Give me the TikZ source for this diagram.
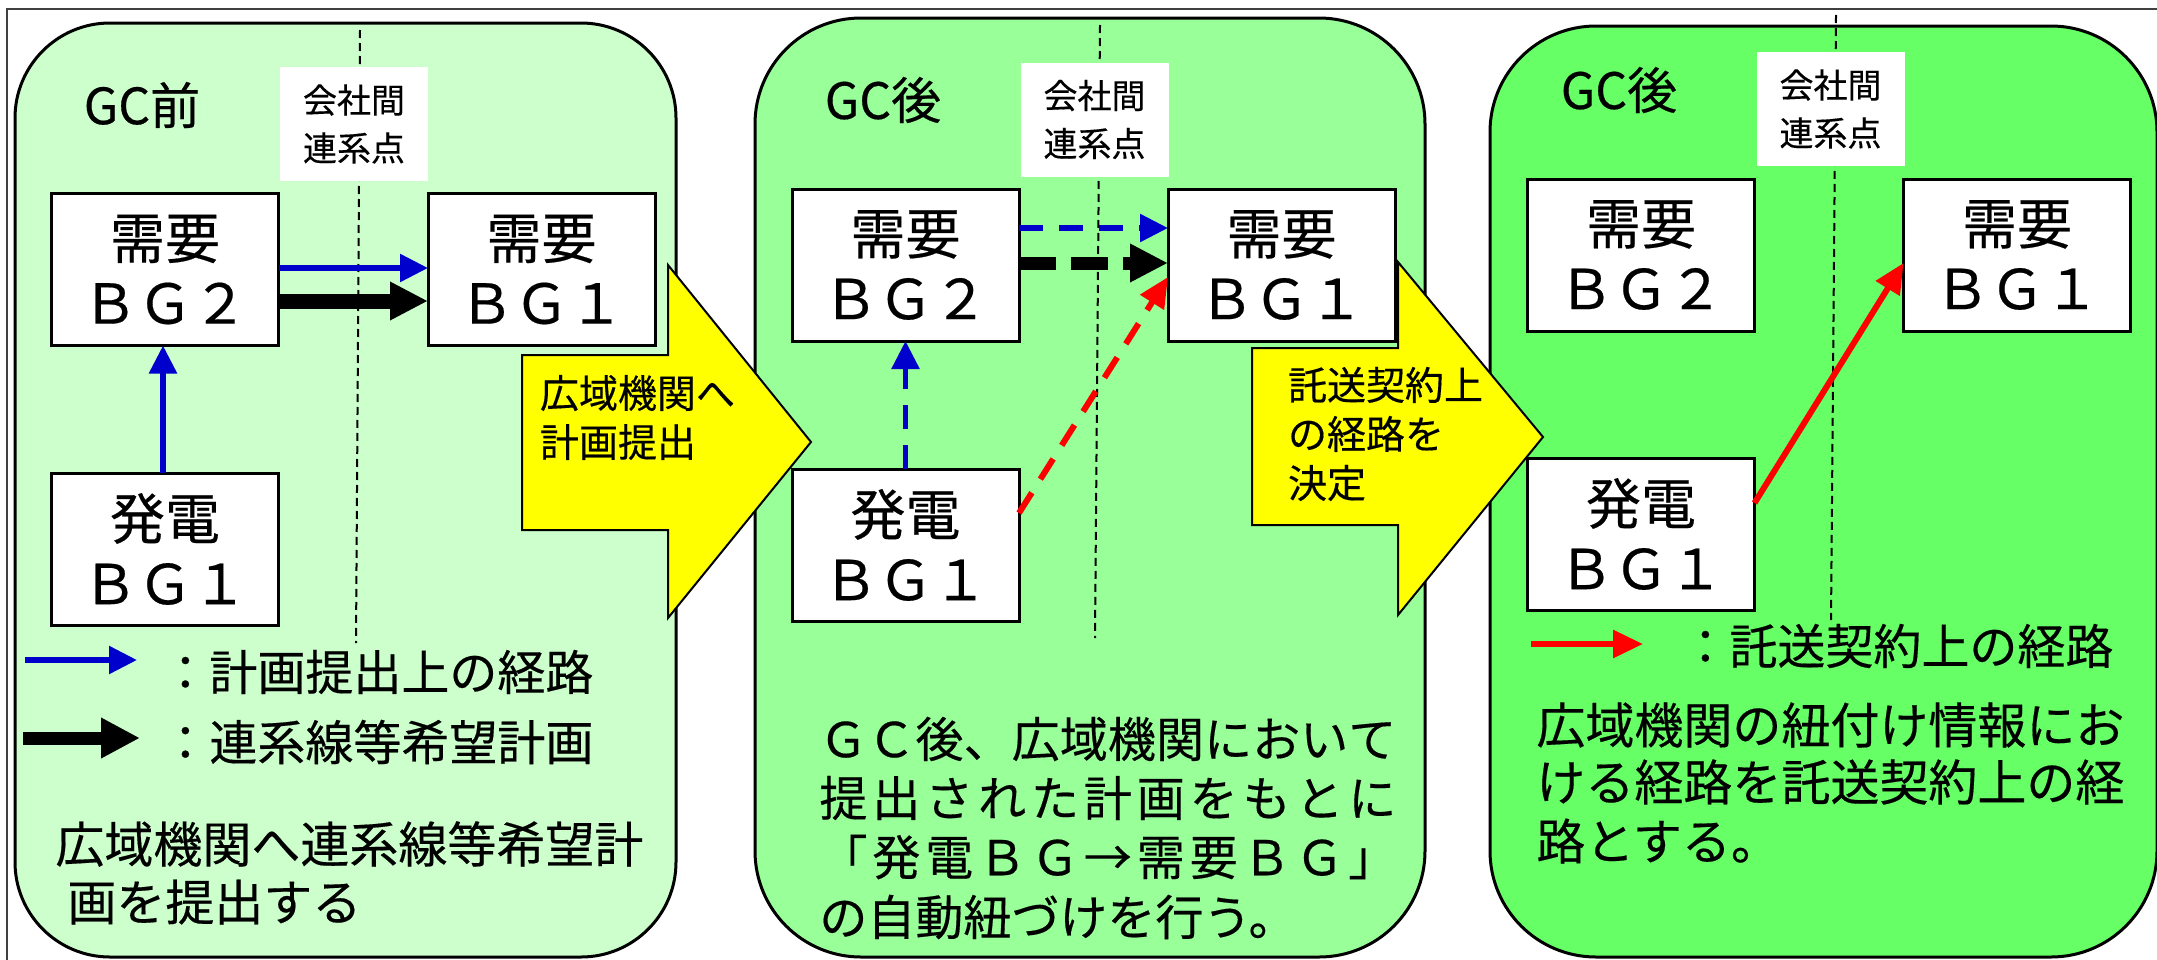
\documentclass[tikz,border=0pt]{standalone}
\usepackage{fontspec}
\setmainfont{Noto Sans CJK JP}[FakeBold=0.35]
\usetikzlibrary{arrows.meta}
\definecolor{pone}{HTML}{CCFFCC}
\definecolor{ptwo}{HTML}{99FF99}
\definecolor{pthree}{HTML}{66FF66}
\definecolor{arblue}{HTML}{0000CC}
\definecolor{yel}{HTML}{FFFF00}
\def\jspreadA#1{\ifx#1\relax\else#1\expandafter\jspreadB\fi}
\def\jspreadB#1{\ifx#1\relax\else\hfil#1\expandafter\jspreadB\fi}
\newcommand\jspread[2]{\hbox to #1{\jspreadA#2\relax}}
\tikzset{
  bgbox/.style={draw, line width=1.5pt, fill=white, minimum width=113.5pt, minimum height=76pt,
    align=center, inner sep=0pt, outer sep=0pt, font=\fontsize{27.5pt}{32.5pt}\selectfont},
  panel/.style={draw, line width=1.5pt},
  sepline/.style={draw, line width=1pt, dash pattern=on 4pt off 2.5pt},
  kbox/.style={fill=white, inner sep=0pt, minimum width=74pt, minimum height=57pt,
    align=center, font=\fontsize{17pt}{24pt}\selectfont},
  gclab/.style={font=\fontsize{25pt}{25pt}\selectfont, inner sep=0pt},
  yarrow/.style={draw, line width=1pt, fill=yel, line join=miter},
  ytext/.style={align=left, font=\fontsize{19.5pt}{24.5pt}\selectfont, inner sep=0pt},
  body/.style={font=\fontsize{24.5pt}{29pt}\selectfont, inner sep=0pt, anchor=west},
  bodyb/.style={font=\fontsize{24pt}{29pt}\selectfont, inner sep=0pt, anchor=west},
  legtext/.style={font=\fontsize{24pt}{29pt}\selectfont, inner sep=0pt, anchor=west},
  bluearr/.style={draw=arblue, line width=2.8pt, -{Triangle[length=14pt,width=13.5pt,fill=arblue]}},
  blackarr/.style={draw=black, line width=7.5pt, -{Triangle[length=19pt,width=18pt]}},
  legblack/.style={draw=black, line width=6.5pt, -{Triangle[length=19.5pt,width=19pt]}},
  redarr/.style={draw=red, line width=3pt, -{Triangle[length=15pt,width=13.5pt,fill=red]}},
  dashblue/.style={dash pattern=on 12pt off 8pt},
  dashblack/.style={dash pattern=on 18.5pt off 7.5pt},
}
\begin{document}
\begin{tikzpicture}[x=0.5pt, y=-0.5pt]
\useasboundingbox (0,0) rectangle (2157,959);
\clip (0,0) rectangle (2157,959);
\fill[white] (0,0) rectangle (2157,959);
% outer frame
\draw[line width=1pt, black!75] (7,9) rectangle (2300,1100);
% panels
\draw[panel, fill=pone, rounded corners=47.5pt] (15,23) rectangle (676,957);
\draw[panel, fill=ptwo, rounded corners=53pt] (755,18) rectangle (1425,957);
\draw[panel, fill=pthree, rounded corners=53pt] (1490,26) rectangle (2157,957);
% separator lines
\draw[sepline] (360,30) -- (356,643);
\draw[sepline] (1100,25) -- (1095,638);
\draw[sepline] (1836,15) -- (1831,620);
% company connection point labels
\node[kbox] (k1) at (354,124) {会社間\\連系点};
\node[kbox] (k2) at (1094.5,119.5) {会社間\\連系点};
\node[kbox] (k3) at (1830.5,109) {会社間\\連系点};
% GC labels
\node[gclab] (gc1) at (142,105) {GC前};
\node[gclab] (gc2) at (883,100) {GC後};
\node[gclab] (gc3) at (1619,90) {GC後};
% panel 1 boxes
\node[bgbox] (p1d2) at (165,269.5) {需要\\ＢＧ２};
\node[bgbox] (p1d1) at (541.5,269.5) {需要\\ＢＧ１};
\node[bgbox] (p1g1) at (165,549) {発電\\ＢＧ１};
% panel 2 boxes
\node[bgbox] (p2d2) at (905.5,265) {需要\\ＢＧ２};
\node[bgbox] (p2d1) at (1281.5,265) {需要\\ＢＧ１};
\node[bgbox] (p2g1) at (905.5,545) {発電\\ＢＧ１};
% panel 3 boxes
\node[bgbox] (p3d2) at (1641,255) {需要\\ＢＧ２};
\node[bgbox] (p3d1) at (2017,255) {需要\\ＢＧ１};
\node[bgbox] (p3g1) at (1641,534) {発電\\ＢＧ１};
% panel 1 connectors
\draw[bluearr] ([yshift=0.75pt]p1d2.east) -- ([yshift=0.75pt]p1d1.west);
\draw[blackarr] ([yshift=-15.75pt]p1d2.east) -- ([yshift=-15.75pt]p1d1.west);
\draw[bluearr] ([xshift=-1pt]p1g1.north) -- ([xshift=-1pt]p1d2.south);
% panel 2 connectors
\draw[bluearr, dashblue] ([yshift=18.5pt]p2d2.east) -- ([yshift=18.5pt]p2d1.west);
\draw[blackarr, line width=6.5pt, dashblack] ([yshift=1pt]p2d2.east) -- ([yshift=1pt]p2d1.west);
\draw[bluearr, dashblue] (p2g1.north) -- (p2d2.south);
\draw[redarr, dashblue] ([yshift=16pt]p2g1.east) -- ([yshift=-6pt]p2d1.west);
% panel 3 connector
\draw[redarr] ([yshift=15.5pt]p3g1.east) -- ([yshift=-4pt]p3d1.west);
% legend panel 1
\coordinate (l1a) at (25,660);
\coordinate (l1b) at (137,660);
\draw[bluearr] (l1a) -- (l1b);
\node[legtext] (l1t) at (161,672) {：計画提出上の経路};
\coordinate (l2a) at (23,738);
\coordinate (l2b) at (140,738);
\draw[legblack] (l2a) -- (l2b);
\node[legtext] (l2t) at (161,742) {：連系線等希望計画};
% panel 1 body
\node[body] (t1a) at (55,844) {広域機関へ連系線等希望計};
\node[body] (t1b) at (67,902) {画を提出する};
% panel 2 body
\node[bodyb] (t2a) at (819,739) {\jspread{288.5pt}{ＧＣ後、広域機関において}};
\node[bodyb] (t2b) at (819,798) {\jspread{288.5pt}{提出された計画をもとに}};
\node[bodyb] (t2c) at (819,857) {\jspread{288.5pt}{「発電ＢＧ→需要ＢＧ」}};
\node[bodyb] (t2d) at (819,917) {の自動紐づけを行う。};
% panel 3 legend and body
\coordinate (l3a) at (1531,644);
\coordinate (l3b) at (1643,644);
\draw[redarr] (l3a) -- (l3b);
\node[legtext] (l3t) at (1681,646) {：託送契約上の経路};
\node[body] (t3a) at (1536,725) {広域機関の紐付け情報にお};
\node[body] (t3b) at (1536,782) {ける経路を託送契約上の経};
\node[body] (t3c) at (1536,841) {路とする。};
% yellow block arrows
\draw[yarrow] (522,355) -- (668,355) -- (668,265) -- (811,442) -- (668,618) -- (668,530) -- (522,530) -- cycle;
\node[ytext] (y1t) at (637.5,417.5) {広域機関へ\\計画提出};
\draw[yarrow] (1252,348) -- (1398,348) -- (1398,262) -- (1543,437) -- (1398,615) -- (1398,525) -- (1252,525) -- cycle;
\node[ytext] (y2t) at (1385.5,434) {託送契約上\\の経路を\\決定};
\end{tikzpicture}
\end{document}
